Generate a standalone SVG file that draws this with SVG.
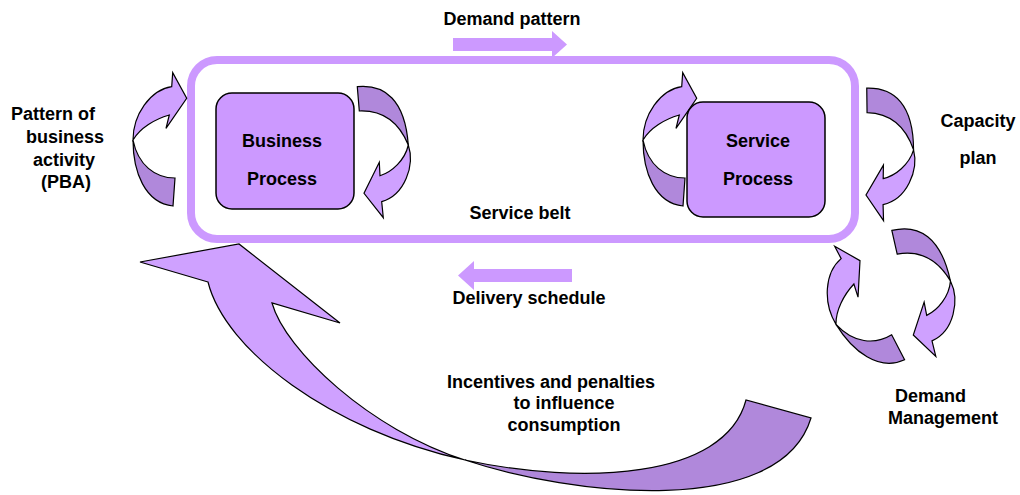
<svg xmlns="http://www.w3.org/2000/svg" xmlns:xlink="http://www.w3.org/1999/xlink" width="1020" height="495" viewBox="0 0 1020 495">
<style>
.lbl{font-family:"Liberation Sans",Arial,sans-serif;font-weight:bold;font-size:18px;fill:#000}
.mid{text-anchor:middle}
.lt{fill:#CFA1FF;stroke:#000;stroke-width:1.2;stroke-linejoin:miter}
.dk{fill:#B088DB;stroke:#000;stroke-width:1.2;stroke-linejoin:miter}
.block{fill:#CC99FF;stroke:none}
.box{fill:#CC99FF;stroke:#000;stroke-width:1.5}
</style>
<defs>
<g id="curlA">
<path class="lt" d="M171.7,86.7 L172.7,72.7 L186.7,98.3 L166,128.3 L169.3,115 C155,119 140,128 133,140 C133,115 150,90 171.7,86.7 Z"/>
<path class="dk" d="M133,140 C133,172 145,203 173,206 L175,178 C155,178 138,165 133,140 Z"/>
</g>
<g id="curlB">
<path class="dk" d="M357.3,86.7 C385,84 405,100 408.3,145 C400,125 385,110 359.3,111 Z"/>
<path class="lt" d="M408.3,145 C415,165 405,195 381.7,201.7 L383.3,217.7 L364,193.3 L379.3,162.3 L380,175.7 C392,172 405,160 408.3,145 Z"/>
</g>
</defs>
<rect width="1020" height="495" fill="#fff"/>

<g id="demand-pattern-arrow">
<polygon class="block" points="453,38 552,38 552,31 567,44.5 552,58 552,51 453,51"/>
</g>

<g id="service-belt">
<rect x="191" y="60" width="664" height="179" rx="26" ry="26" fill="#fff" stroke="#CC99FF" stroke-width="8"/>
<text class="lbl mid" x="520" y="219">Service belt</text>
</g>

<g id="business-process">
<rect class="box" x="216" y="93" width="138" height="116" rx="16" ry="16"/>
<text class="lbl mid" x="282" y="147">Business</text>
<text class="lbl mid" x="282" y="185">Process</text>
</g>

<g id="connectors">
<use xlink:href="#curlA" href="#curlA"/>
<use xlink:href="#curlB" href="#curlB"/>
<use xlink:href="#curlA" href="#curlA" transform="translate(510,0)"/>
<use xlink:href="#curlB" href="#curlB" transform="translate(866,195) rotate(4) translate(-364,-193.3)"/>
<use xlink:href="#curlA" href="#curlA" transform="translate(860,260.7) rotate(-31.5) translate(-186.7,-98.3)"/>
<use xlink:href="#curlB" href="#curlB" transform="translate(913.3,335) rotate(-8) translate(-364,-193.3)"/>
<g id="incentives-arrow">
<path class="lt" d="M208,282 L140,262 L239,244 L340,323 L272,303 C285,350 370,430 465,460 C330,430 225,350 208,282 Z"/>
<path class="dk" d="M465,460 C570,495 780,520 811,418 L746,400 C725,480 580,485 465,460 Z"/>
</g>
<g id="delivery-schedule-arrow">
<polygon class="block" points="572,269 474,269 474,261 458,275.5 474,290 474,282 572,282"/>
</g>
</g>

<g id="service-process">
<rect class="box" x="687" y="102" width="138" height="115" rx="16" ry="16"/>
<text class="lbl mid" x="758" y="147">Service</text>
<text class="lbl mid" x="758" y="185">Process</text>
</g>

<g id="labels">
<text class="lbl mid" x="512" y="25">Demand pattern</text>
<text class="lbl mid" x="529" y="304">Delivery schedule</text>
<text class="lbl" x="11" y="120">Pattern of</text>
<text class="lbl" x="26" y="143">business</text>
<text class="lbl" x="33" y="166">activity</text>
<text class="lbl" x="41" y="188">(PBA)</text>
<text class="lbl mid" x="978" y="127">Capacity</text>
<text class="lbl mid" x="978" y="164">plan</text>
<text class="lbl" x="895" y="402">Demand</text>
<text class="lbl" x="888" y="424">Management</text>
<text class="lbl mid" x="551" y="388">Incentives and penalties</text>
<text class="lbl mid" x="564" y="409">to influence</text>
<text class="lbl mid" x="564" y="431">consumption</text>
</g>
</svg>
